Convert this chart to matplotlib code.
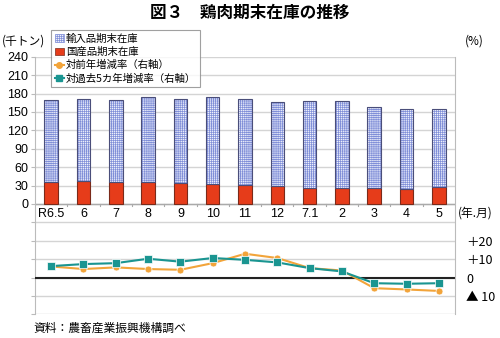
import matplotlib
matplotlib.use("Agg")
import matplotlib.pyplot as plt
import numpy as np
from matplotlib.patches import Patch
from matplotlib.lines import Line2D

plt.rcParams['font.family'] = ['Noto Sans CJK JP', 'DejaVu Sans']
plt.rcParams['hatch.linewidth'] = 0.5

categories = ['R6.5', '6', '7', '8', '9', '10', '11', '12', '7.1', '2', '3', '4', '5']
domestic = [36, 37.5, 36, 36, 34, 32, 30.5, 29.5, 26.5, 26, 26, 25, 28]
imported = [133, 134, 134, 138, 137.5, 142, 141, 137, 140.5, 141, 132.5, 129, 127]
yoy = [6.0, 4.6, 5.5, 4.6, 4.2, 7.8, 12.9, 10.6, 5.1, 3.8, -5.8, -6.5, -7.3]
vs5y = [6.2, 7.3, 7.8, 10.2, 8.6, 10.6, 9.6, 8.2, 5.1, 3.3, -3.1, -3.4, -3.1]
left_labels = ['0', '30', '60', '90', '120', '150', '180', '210', '240']
right_ticks = [20, 10, 0, -10]
right_labels = ['＋20', '＋10', '0', '▲ 10']

fig = plt.figure(figsize=(5.0, 3.38), dpi=100)
ax = fig.add_axes([0.07, 0.0701, 0.84, 0.7621])
ax2 = ax.twinx()

x = np.arange(len(categories))
w = 0.42
grid_c = '#d4d4d4'
num_font = ['Liberation Sans', 'DejaVu Sans']

# gridlines
ax.set_ylim(-180, 240)
ax.set_xlim(-0.5, len(categories) - 0.5)
ax.set_yticks(np.arange(-180, 241, 30))
ax.set_yticklabels([''] * 6 + left_labels)
for lab in ax.get_yticklabels():
    lab.set_family(num_font)
ax.yaxis.grid(True, color=grid_c, lw=1.0)
ax.set_axisbelow(True)
for s in ['top', 'bottom']:
    ax.spines[s].set_visible(False)
ax.spines['left'].set_color('#bbbbbb')
ax.spines['right'].set_visible(False)
ax.tick_params(axis='y', length=3, color='#bbbbbb', labelsize=9, pad=2)

# x-axis line at 0 with boundary ticks
ax.axhline(0, color='#aaaaaa', lw=1.0, zorder=1.5)
for b in np.arange(0.5, len(categories) - 1, 1.0):
    ax.plot([b, b], [0, -4], color='#aaaaaa', lw=0.8, zorder=1.5, clip_on=False)
ax.set_xticks([])
for xi, lab in zip(x, categories):
    ax.text(xi, -7, lab, ha='center', va='top', fontsize=9, family=num_font)

# bars
ax.bar(x, domestic, w, color='#e63c1a', edgecolor='#7a2a1a', lw=0.8, zorder=2)
ax.bar(x, imported, w, bottom=domestic, color='#eef0fb', edgecolor='#7f8ed8',
       lw=0, hatch='++++++++', zorder=2)
ax.bar(x, imported, w, bottom=domestic, fill=False, edgecolor='#4a4e7a', lw=0.8, zorder=2.1)

# right axis lines
ax2.set_ylim(-20, 120)
ax2.set_yticks(right_ticks)
ax2.set_yticklabels(right_labels)
ax2.tick_params(axis='y', length=0, labelsize=9, pad=8)
for s in ['top', 'bottom', 'left']:
    ax2.spines[s].set_visible(False)
ax2.spines['right'].set_color('#bbbbbb')
ax2.axhline(0, color='#222222', lw=1.5, zorder=2)
ax2.plot(x, yoy, color='#f2a43a', lw=1.5, marker='o', ms=5, mec='white', mew=0.5, zorder=3)
ax2.plot(x, vs5y, color='#1a9591', lw=1.5, marker='s', ms=5.5, mec='white', mew=0.5, zorder=4)

# legend
handles = [
    Patch(facecolor='#eef0fb', edgecolor='#7f8ed8', hatch='++++++++', lw=0.5),
    Patch(facecolor='#e63c1a', edgecolor='#7a2a1a', lw=0.5),
    Line2D([], [], color='#f2a43a', lw=1.5, marker='o', ms=4),
    Line2D([], [], color='#1a9591', lw=1.5, marker='s', ms=4),
]
labels = ['輸入品期末在庫', '国産品期末在庫', '対前年増減率（右軸）', '対過去5カ年増減率（右軸）']
leg = fig.legend(handles, labels, loc='upper left', bbox_to_anchor=(0.102, 0.912),
                 fontsize=7.5, frameon=True, fancybox=False, edgecolor='#888888',
                 handlelength=0.9, handletextpad=0.2, borderpad=0.35, labelspacing=0.3,
                 borderaxespad=0)
leg.get_frame().set_linewidth(0.8)

# texts
fig.text(0.5, 0.963, '図３　鶏肉期末在庫の推移', ha='center', va='center', fontsize=12,
         fontweight='bold')
fig.text(0.004, 0.88, '(千トン)', ha='left', va='center', fontsize=8.5)
fig.text(0.93, 0.88, '(%)', ha='left', va='center', fontsize=8.5)
fig.text(0.916, 0.37, '(年.月)', ha='left', va='center', fontsize=8.5)
fig.text(0.066, 0.03, '資料：農畜産業振興機構調べ', ha='left', va='center', fontsize=8.5)

fig.savefig('out.png', dpi=100)
